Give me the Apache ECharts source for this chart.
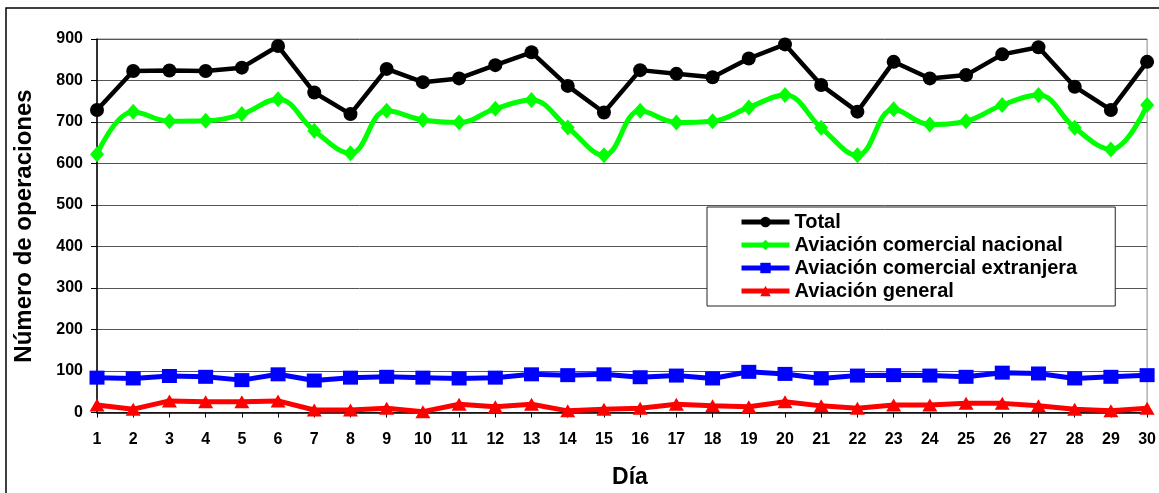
<!DOCTYPE html>
<html>
<head>
<meta charset="utf-8">
<script src="https://cdn.jsdelivr.net/npm/echarts@6/dist/echarts.min.js"></script>
<style>
  html, body { margin: 0; padding: 0; background: #fff; }
  #chart { width: 1159px; height: 493px; }
</style>
</head>
<body>
<div id="chart"></div>
<script>
// Operaciones diarias por tipo de aviación
const dias = ['1','2','3','4','5','6','7','8','9','10','11','12','13','14','15','16','17','18','19','20','21','22','23','24','25','26','27','28','29','30'];

const total = [729, 823, 824, 823, 831, 883, 771, 719, 828, 796, 805, 837, 868, 787, 723, 825, 816, 808, 853, 887, 789, 725, 845, 805, 813, 863, 880, 785, 729, 845];
const comercialNacional = [622, 725, 702, 703, 719, 755, 679, 625, 727, 705, 699, 732, 753, 687, 620, 727, 699, 702, 735, 765, 686, 620, 731, 694, 702, 741, 765, 686, 634, 741];
const comercialExtranjera = [84, 82, 88, 86, 78, 92, 77, 84, 86, 84, 82, 84, 92, 90, 92, 85, 89, 82, 98, 93, 82, 89, 90, 89, 86, 96, 94, 82, 86, 90];
const general = [18, 8, 28, 26, 26, 28, 6, 6, 10, 2, 20, 14, 20, 4, 8, 10, 20, 16, 14, 26, 16, 10, 18, 18, 22, 22, 16, 8, 4, 10];

const yTicks = { min: 0, max: 900, interval: 100 };

const FONT = '"Liberation Sans", Arial, sans-serif';

const chart = echarts.init(document.getElementById('chart'), null, { renderer: 'canvas' });

function lineSeries(name, data, color, symbol, symbolSize, width, smooth) {
  return {
    name: name,
    type: 'line',
    data: data,
    smooth: smooth,
    symbol: symbol,
    symbolSize: symbolSize,
    showAllSymbol: true,
    lineStyle: { color: color, width: width },
    itemStyle: { color: color, borderWidth: 0 },
    emphasis: { disabled: true },
    animation: false
  };
}

chart.setOption({
  backgroundColor: '#ffffff',
  animation: false,
  grid: {
    left: 97, right: 11, top: 39, bottom: 80.5,
    show: true, borderColor: '#888', borderWidth: 1, backgroundColor: '#fff'
  },
  xAxis: {
    type: 'category',
    data: dias,
    boundaryGap: false,
    axisLine: { lineStyle: { color: '#000', width: 1.5 } },
    axisTick: { show: true, inside: false, length: 5, alignWithLabel: true, lineStyle: { color: '#000', width: 1 } },
    axisLabel: { color: '#000', fontFamily: FONT, fontWeight: 'bold', fontSize: 16, margin: 19, interval: 0 },
    splitLine: { show: false }
  },
  yAxis: {
    type: 'value',
    min: yTicks.min, max: yTicks.max, interval: yTicks.interval,
    axisLine: { show: true, lineStyle: { color: '#000', width: 1.5 } },
    axisTick: { show: true, inside: false, length: 6, lineStyle: { color: '#000', width: 1 } },
    axisLabel: { color: '#000', fontFamily: FONT, fontWeight: 'bold', fontSize: 16, margin: 14 },
    splitLine: { show: true, lineStyle: { color: '#555', width: 1 } }
  },
  legend: {
    orient: 'vertical',
    left: 707, top: 207,
    padding: [5, 38, 5, 32],
    backgroundColor: '#fff',
    borderColor: '#222', borderWidth: 1, borderRadius: 0,
    itemWidth: 48, itemHeight: 13, itemGap: 3,
    textStyle: { color: '#000', fontFamily: FONT, fontWeight: 'bold', fontSize: 20 },
    lineStyle: { width: 5 },
    selectedMode: false,
    data: ['Total', 'Aviación comercial nacional', 'Aviación comercial extranjera', 'Aviación general']
  },
  graphic: [
    {
      type: 'rect', silent: true, z: 100,
      shape: { x: 6, y: 8, width: 1300, height: 700 },
      style: { fill: 'none', stroke: '#000', lineWidth: 1.5 }
    },
    {
      type: 'text', silent: true, z: 100,
      x: 24, y: 226, rotation: Math.PI / 2,
      style: {
        text: 'Número de operaciones', fill: '#000',
        font: 'bold 24px ' + FONT, align: 'center', verticalAlign: 'middle'
      }
    },
    {
      type: 'text', silent: true, z: 100,
      x: 630, y: 478,
      style: {
        text: 'Día', fill: '#000',
        font: 'bold 23px ' + FONT, align: 'center', verticalAlign: 'middle'
      }
    }
  ],
  series: [
    lineSeries('Aviación general', general, '#ff0000', 'triangle', [15, 13], 5, false),
    lineSeries('Aviación comercial extranjera', comercialExtranjera, '#0000ff', 'rect', [15, 14], 5, false),
    lineSeries('Aviación comercial nacional', comercialNacional, '#00ff00', 'diamond', [14, 16], 5, 0.4),
    lineSeries('Total', total, '#000000', 'circle', 14, 4.5, false)
  ]
});
</script>
</body>
</html>
